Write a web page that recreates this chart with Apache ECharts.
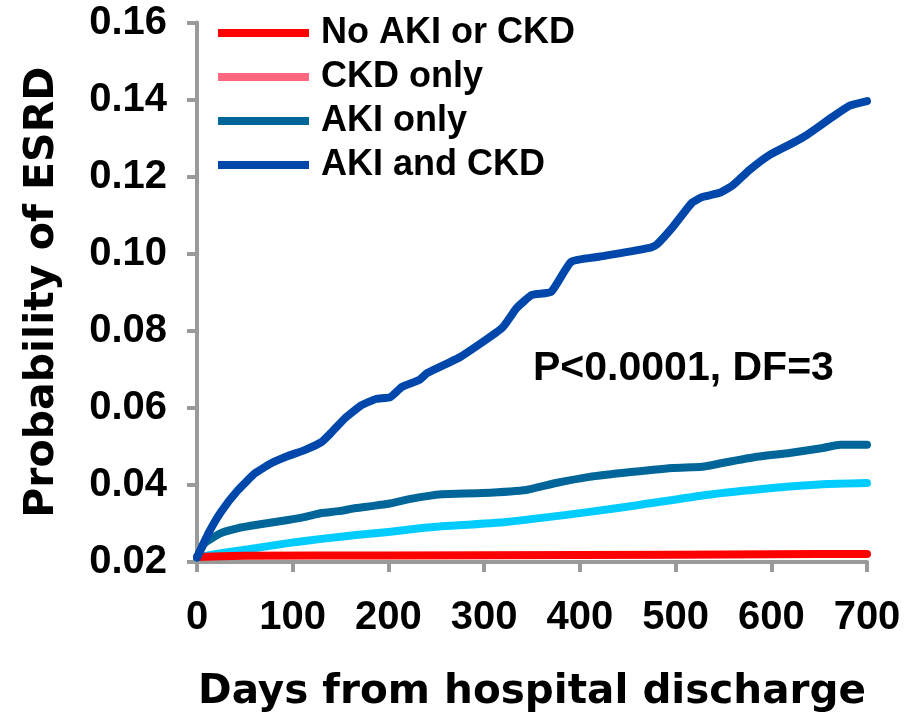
<!DOCTYPE html>
<html>
<head>
<meta charset="utf-8">
<script src="https://cdn.jsdelivr.net/npm/echarts@6/dist/echarts.min.js"></script>
<style>
  html, body { margin: 0; padding: 0; background: #ffffff; }
  #chart { width: 918px; height: 720px; }
</style>
</head>
<body>
<div id="chart"></div>
<script>
// ---- data ----
const seriesNames = ['No AKI or CKD', 'CKD only', 'AKI only', 'AKI and CKD'];
const xTicks = [0, 100, 200, 300, 400, 500, 600, 700];
const yTicks = [0.02, 0.04, 0.06, 0.08, 0.10, 0.12, 0.14, 0.16];

const noAkiNoCkd = [
  [0, 0.0213], [50, 0.0216], [200, 0.0217], [400, 0.0218], [600, 0.0220], [700, 0.0221]
];
const ckdOnly = [
  [0, 0.0212], [25, 0.0223], [61, 0.0236], [95, 0.0249], [130, 0.0260], [166, 0.0270],
  [200, 0.0278], [235, 0.0288], [253, 0.0292], [323, 0.0304], [410, 0.0330], [462, 0.0348],
  [532, 0.0374], [601, 0.0392], [654, 0.0402], [700, 0.0405]
];
const akiOnly = [
  [0, 0.0212], [8, 0.0249], [25, 0.0275], [43, 0.0288], [61, 0.0296], [95, 0.0309],
  [113, 0.0317], [130, 0.0327], [148, 0.0332], [166, 0.0340], [182, 0.0345], [200, 0.0351],
  [218, 0.0361], [235, 0.0369], [256, 0.0376], [298, 0.0379], [344, 0.0387], [375, 0.0405],
  [410, 0.0421], [444, 0.0431], [497, 0.0444], [528, 0.0447], [549, 0.0457], [585, 0.0473],
  [619, 0.0483], [654, 0.0496], [672, 0.0504], [700, 0.0504]
];
const akiAndCkd = [
  [0, 0.0212], [12, 0.0275], [25, 0.0330], [43, 0.0387], [61, 0.0431], [78, 0.0457],
  [95, 0.0475], [113, 0.0491], [130, 0.0511], [140, 0.0535], [155, 0.0574], [172, 0.0607],
  [187, 0.0623], [202, 0.0628], [214, 0.0654], [232, 0.0672], [241, 0.0691], [275, 0.0732],
  [319, 0.0808], [334, 0.0859], [350, 0.0893], [370, 0.0901], [391, 0.0979], [420, 0.0992],
  [473, 0.1015], [480, 0.1023], [497, 0.1069], [517, 0.1132], [528, 0.1147], [546, 0.1158],
  [560, 0.1178], [577, 0.1217], [598, 0.1256], [622, 0.1287], [637, 0.1308], [664, 0.1355],
  [682, 0.1384], [700, 0.1396]
];
const annotation = 'P<0.0001, DF=3';
const xTitle = 'Days from hospital discharge';
const yTitle = 'Probability of ESRD';

// ---- styles ----
const lineColors = {
  'No AKI or CKD': '#ff0000',
  'CKD only': '#00ccff',
  'AKI only': '#006699',
  'AKI and CKD': '#0047ab'
};
const legendColors = {
  'No AKI or CKD': '#ff0000',
  'CKD only': '#ff6680',
  'AKI only': '#006699',
  'AKI and CKD': '#0047ab'
};
const axisGray = '#9a9a9a';
const tickFont = 'Liberation Sans';
const titleFont = 'DejaVu Sans';

function mkSeries(name, data, z) {
  return {
    name: name,
    type: 'line',
    data: data,
    symbol: 'none',
    smooth: 0.15,
    z: z,
    itemStyle: { color: lineColors[name] },
    lineStyle: { color: lineColors[name], width: 8, cap: 'round', join: 'round' }
  };
}

const chart = echarts.init(document.getElementById('chart'), null, { renderer: 'canvas' });
chart.setOption({
  animation: false,
  backgroundColor: '#ffffff',
  grid: { left: 197, right: 51, top: 22.5, bottom: 158, containLabel: false },
  legend: {
    orient: 'vertical',
    left: 218,
    top: 15,
    padding: 0,
    icon: 'rect',
    itemWidth: 91,
    itemHeight: 8,
    itemGap: 8,
    textStyle: {
      fontFamily: tickFont, fontWeight: 'bold', fontSize: 36, color: '#000',
      lineHeight: 36, padding: [0, 0, 0, 7]
    },
    data: seriesNames.map(n => ({
      name: n,
      icon: 'rect',
      itemStyle: { color: legendColors[n], borderWidth: 0 }
    }))
  },
  xAxis: {
    type: 'value',
    min: xTicks[0],
    max: xTicks[xTicks.length - 1],
    interval: 100,
    name: xTitle,
    nameLocation: 'middle',
    nameGap: 110,
    nameTextStyle: { fontFamily: titleFont, fontWeight: 'bold', fontSize: 40.5, color: '#000' },
    axisLine: { show: true, lineStyle: { color: axisGray, width: 4 } },
    axisTick: { show: true, inside: false, length: 10, lineStyle: { color: axisGray, width: 4 } },
    axisLabel: {
      margin: 36,
      fontFamily: tickFont, fontWeight: 'bold', fontSize: 40, color: '#000',
      formatter: v => String(v)
    },
    splitLine: { show: false }
  },
  yAxis: {
    type: 'value',
    min: yTicks[0],
    max: yTicks[yTicks.length - 1],
    interval: 0.02,
    name: yTitle,
    nameLocation: 'middle',
    nameGap: 134,
    nameTextStyle: { fontFamily: titleFont, fontWeight: 'bold', fontSize: 41, color: '#000' },
    axisLine: { show: true, lineStyle: { color: axisGray, width: 4 } },
    axisTick: { show: true, inside: false, length: 10, lineStyle: { color: axisGray, width: 4 } },
    axisLabel: {
      margin: 30,
      fontFamily: tickFont, fontWeight: 'bold', fontSize: 40, color: '#000',
      formatter: v => v.toFixed(2)
    },
    splitLine: { show: false }
  },
  graphic: [{
    type: 'text',
    x: 533,
    y: 369,
    style: {
      text: annotation,
      font: 'bold 41px "Liberation Sans"',
      fill: '#000',
      textAlign: 'left',
      textVerticalAlign: 'middle'
    }
  }],
  series: [
    mkSeries('CKD only', ckdOnly, 2),
    mkSeries('No AKI or CKD', noAkiNoCkd, 3),
    mkSeries('AKI only', akiOnly, 4),
    mkSeries('AKI and CKD', akiAndCkd, 5)
  ]
});
</script>
</body>
</html>
